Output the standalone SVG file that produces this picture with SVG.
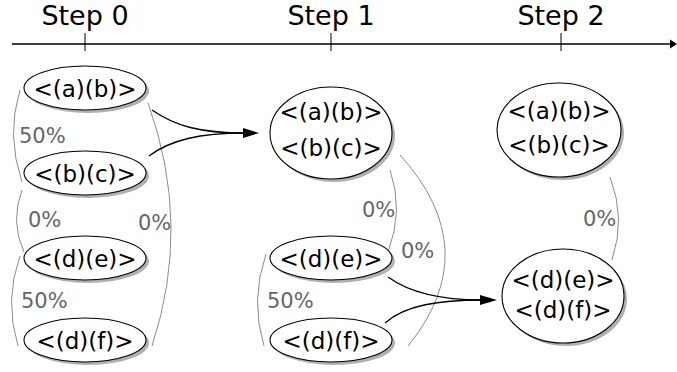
<svg xmlns="http://www.w3.org/2000/svg" width="677" height="372" viewBox="0 0 677 372">
  <defs>
    <style>
      .node { fill: #ffffff; stroke: #000000; stroke-width: 1.1; }
      .shadow { fill: #b0b0b0; stroke: none; }
      .ntext { font-family: "DejaVu Sans", sans-serif; font-size: 23px; fill: #000000; text-anchor: middle; }
      .step { font-family: "DejaVu Sans", sans-serif; font-size: 27px; fill: #000000; text-anchor: middle; }
      .pct { font-family: "DejaVu Sans", sans-serif; font-size: 21px; fill: #666666; }
      .arc { fill: none; stroke: #8c8c8c; stroke-width: 1; }
      .flow { fill: none; stroke: #000000; stroke-width: 1.3; }
      .axis { fill: none; stroke: #000000; stroke-width: 1.3; }
      .tick { fill: none; stroke: #000000; stroke-width: 1; }
    </style>
  </defs>

  <!-- time axis -->
  <g id="axis">
    <line class="axis" x1="12" y1="44" x2="671" y2="44"/>
    <polygon points="670,39.5 677,44 670,48.5" fill="#000000"/>
    <line class="tick" x1="85" y1="33" x2="85" y2="51"/>
    <line class="tick" x1="331" y1="33" x2="331" y2="51"/>
    <line class="tick" x1="561" y1="33" x2="561" y2="51"/>
    <text class="step" x="85" y="25">Step 0</text>
    <text class="step" x="331" y="25">Step 1</text>
    <text class="step" x="561" y="25">Step 2</text>
  </g>

  <!-- similarity arcs and merge arrows -->
  <g id="connectors">
    <path class="arc" d="M20,90 Q6,135 22,182"/>
    <path class="arc" d="M22,190 Q10,222 24,252"/>
    <path class="arc" d="M20,256 Q4,300 18,346"/>
    <path class="arc" d="M148,103 Q192,225 152,346"/>
    <path class="arc" d="M266,254 Q250,300 264,346"/>
    <path class="arc" d="M390,170 Q404,210 388,252"/>
    <path class="arc" d="M400,155 Q486,250 408,346"/>
    <path class="arc" d="M610,177 Q626,218 612,260"/>

    <path class="flow" d="M152,110 C175,126 200,133 245,133"/>
    <path class="flow" d="M149,156 C170,140 200,133 245,133"/>
    <polygon points="243,128 259,133 243,138" fill="#000000"/>

    <path class="flow" d="M388,277 C410,293 440,300 482,300"/>
    <path class="flow" d="M385,323 C405,305 440,300 482,300"/>
    <polygon points="480,295 497,300 480,305" fill="#000000"/>

    <text class="pct" x="19" y="143">50%</text>
    <text class="pct" x="28" y="227">0%</text>
    <text class="pct" x="138" y="230">0%</text>
    <text class="pct" x="21" y="308">50%</text>
    <text class="pct" x="267" y="308">50%</text>
    <text class="pct" x="362" y="217">0%</text>
    <text class="pct" x="401" y="258">0%</text>
    <text class="pct" x="583" y="226">0%</text>
  </g>

  <!-- step 0 -->
  <g id="s0-ab">
    <ellipse class="shadow" cx="88" cy="91" rx="61" ry="22"/>
    <ellipse class="node" cx="85" cy="88" rx="61" ry="22"/>
    <text class="ntext" x="85" y="97">&lt;(a)(b)&gt;</text>
  </g>
  <g id="s0-bc">
    <ellipse class="shadow" cx="88" cy="176" rx="61" ry="22"/>
    <ellipse class="node" cx="85" cy="173" rx="61" ry="22"/>
    <text class="ntext" x="85" y="182">&lt;(b)(c)&gt;</text>
  </g>
  <g id="s0-de">
    <ellipse class="shadow" cx="88" cy="261" rx="61" ry="22"/>
    <ellipse class="node" cx="85" cy="258" rx="61" ry="22"/>
    <text class="ntext" x="85" y="267">&lt;(d)(e)&gt;</text>
  </g>
  <g id="s0-df">
    <ellipse class="shadow" cx="88" cy="343" rx="61" ry="22"/>
    <ellipse class="node" cx="85" cy="340" rx="61" ry="22"/>
    <text class="ntext" x="85" y="349">&lt;(d)(f)&gt;</text>
  </g>

  <!-- step 1 -->
  <g id="s1-ab-bc">
    <ellipse class="shadow" cx="334" cy="136" rx="61" ry="46"/>
    <ellipse class="node" cx="331" cy="133" rx="61" ry="46"/>
    <text class="ntext" x="331" y="120">&lt;(a)(b)&gt;</text>
    <text class="ntext" x="331" y="156">&lt;(b)(c)&gt;</text>
  </g>
  <g id="s1-de">
    <ellipse class="shadow" cx="334" cy="261" rx="61" ry="22"/>
    <ellipse class="node" cx="331" cy="258" rx="61" ry="22"/>
    <text class="ntext" x="331" y="267">&lt;(d)(e)&gt;</text>
  </g>
  <g id="s1-df">
    <ellipse class="shadow" cx="334" cy="343" rx="61" ry="22"/>
    <ellipse class="node" cx="331" cy="340" rx="61" ry="22"/>
    <text class="ntext" x="331" y="349">&lt;(d)(f)&gt;</text>
  </g>

  <!-- step 2 -->
  <g id="s2-ab-bc">
    <ellipse class="shadow" cx="562" cy="133" rx="62" ry="47"/>
    <ellipse class="node" cx="559" cy="130" rx="62" ry="47"/>
    <text class="ntext" x="559" y="119">&lt;(a)(b)&gt;</text>
    <text class="ntext" x="559" y="153">&lt;(b)(c)&gt;</text>
  </g>
  <g id="s2-de-df">
    <ellipse class="shadow" cx="566" cy="299" rx="61" ry="47"/>
    <ellipse class="node" cx="563" cy="296" rx="61" ry="47"/>
    <text class="ntext" x="563" y="288">&lt;(d)(e)&gt;</text>
    <text class="ntext" x="563" y="318">&lt;(d)(f)&gt;</text>
  </g>
</svg>
